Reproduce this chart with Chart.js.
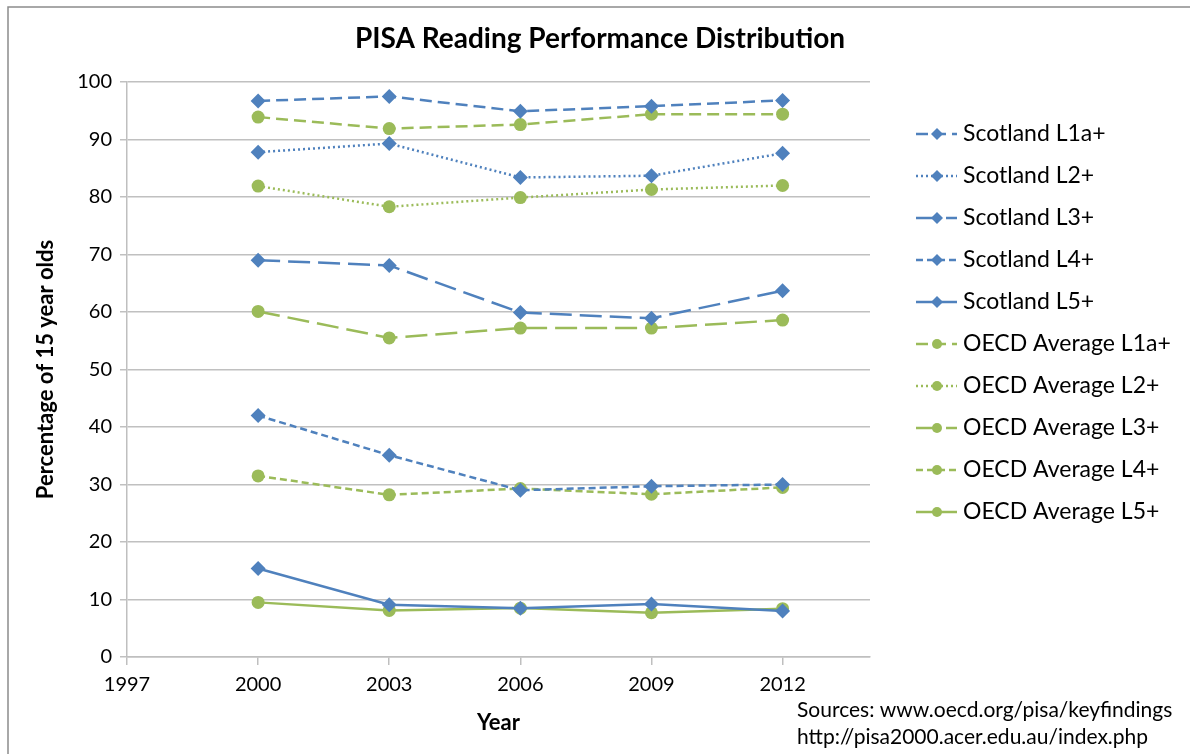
<!DOCTYPE html>
<html>
<head>
<meta charset="utf-8">
<script src="https://cdn.jsdelivr.net/npm/chart.js@4.4.1/dist/chart.umd.min.js"></script>
<style>
    html, body { margin: 0; padding: 0; background: #fff; }
    #wrap { width: 1190px; height: 754px; position: relative; }
</style>
</head>
<body>
<div id="wrap"><canvas id="pisaChart" width="1190" height="754"></canvas></div>
<script>
// Data
const years = [2000, 2003, 2006, 2009, 2012];
const yearTicks = [1997, 2000, 2003, 2006, 2009, 2012];

const scotlandL1a = [96.7, 97.5, 94.9, 95.8, 96.8];
const scotlandL2 = [87.8, 89.3, 83.4, 83.7, 87.6];
const scotlandL3 = [69.0, 68.1, 59.9, 58.9, 63.7];
const scotlandL4 = [42.0, 35.1, 29.0, 29.7, 30.0];
const scotlandL5 = [15.4, 9.1, 8.5, 9.2, 8.0];

const oecdL1a = [93.9, 91.9, 92.6, 94.4, 94.4];
const oecdL2 = [81.9, 78.3, 79.9, 81.3, 82.0];
const oecdL3 = [60.1, 55.5, 57.2, 57.2, 58.6];
const oecdL4 = [31.5, 28.2, 29.3, 28.3, 29.5];
const oecdL5 = [9.5, 8.1, 8.5, 7.7, 8.4];

const blue = '#4F81BD';
const green = '#9BBB59';
const font = 'Lato, "Open Sans", sans-serif';

const dashes = {
    L1a: [12, 6],
    L2: [2, 3],
    L3: [22, 8],
    L4: [7, 4],
    L5: []
};

function series(label, values, color, dash, marker) {
    return {
        label: label,
        data: values.map((v, i) => ({ x: years[i], y: v })),
        borderColor: color,
        backgroundColor: color,
        borderWidth: 2.5,
        borderDash: dash,
        pointStyle: marker,
        pointRadius: marker === 'circle' ? 6.5 : 7.5,
        pointBorderWidth: 0,
        tension: 0
    };
}

// Title, legend, sources and frame
const decorations = {
    id: 'decorations',
    afterDraw(chart) {
        const c = chart.ctx;
        c.save();

        // frame
        c.strokeStyle = '#8c8c8c';
        c.lineWidth = 1.5;
        c.beginPath();
        c.moveTo(8, 754);
        c.lineTo(8, 7);
        c.lineTo(1190, 7);
        c.stroke();

        // title
        c.fillStyle = '#000';
        c.font = 'bold 28px ' + font;
        c.textAlign = 'center';
        c.textBaseline = 'middle';
        c.fillText('PISA Reading Performance Distribution', 600, 39);

        // legend
        c.font = '23px ' + font;
        c.textAlign = 'left';
        chart.data.datasets.forEach((ds, i) => {
            const y = 134 + i * 42;
            c.strokeStyle = ds.borderColor;
            c.lineWidth = 2.5;
            c.setLineDash(ds.borderDash);
            c.beginPath();
            c.moveTo(916, y);
            c.lineTo(957, y);
            c.stroke();
            c.setLineDash([]);
            c.fillStyle = ds.backgroundColor;
            Chart.helpers.drawPoint(c, { pointStyle: ds.pointStyle, radius: ds.pointRadius - 1.5, rotation: 0, borderWidth: 0 }, 937, y);
            c.fillStyle = '#000';
            c.fillText(ds.label, 963, y);
        });

        // sources
        c.font = '21px ' + font;
        c.fillText('Sources: www.oecd.org/pisa/keyfindings', 797, 710);
        c.fillText('http://pisa2000.acer.edu.au/index.php', 797, 737);
        c.restore();
    }
};

const ctx = document.getElementById('pisaChart').getContext('2d');
const pisaChart = new Chart(ctx, {
    type: 'line',
    data: {
        datasets: [
            series('Scotland L1a+', scotlandL1a, blue, dashes.L1a, 'rectRot'),
            series('Scotland L2+', scotlandL2, blue, dashes.L2, 'rectRot'),
            series('Scotland L3+', scotlandL3, blue, dashes.L3, 'rectRot'),
            series('Scotland L4+', scotlandL4, blue, dashes.L4, 'rectRot'),
            series('Scotland L5+', scotlandL5, blue, dashes.L5, 'rectRot'),
            series('OECD Average L1a+', oecdL1a, green, dashes.L1a, 'circle'),
            series('OECD Average L2+', oecdL2, green, dashes.L2, 'circle'),
            series('OECD Average L3+', oecdL3, green, dashes.L3, 'circle'),
            series('OECD Average L4+', oecdL4, green, dashes.L4, 'circle'),
            series('OECD Average L5+', oecdL5, green, dashes.L5, 'circle')
        ]
    },
    options: {
        responsive: false,
        animation: false,
        layout: {
            padding: { left: 33, top: 82, right: 320, bottom: 0 }
        },
        scales: {
            x: {
                type: 'linear',
                min: 1997,
                max: 2014,
                afterBuildTicks: (scale) => {
                    scale.ticks = yearTicks.map(v => ({ value: v }));
                },
                afterFit: (scale) => { scale.height = 97; },
                grid: {
                    drawOnChartArea: false,
                    color: '#bfbfbf',
                    lineWidth: 1.5,
                    tickLength: 8
                },
                border: { color: '#bfbfbf', width: 1.5 },
                ticks: {
                    font: { family: font, size: 20 },
                    color: '#000',
                    padding: 8,
                    maxRotation: 0,
                    callback: (v) => String(v)
                },
                title: {
                    display: true,
                    text: 'Year',
                    font: { family: font, size: 22, weight: 'bold' },
                    color: '#000',
                    padding: { top: 0, bottom: 18 }
                }
            },
            y: {
                min: 0,
                max: 100,
                afterFit: (scale) => { scale.width = 94; },
                ticks: {
                    stepSize: 10,
                    font: { family: font, size: 20 },
                    color: '#000',
                    padding: 8
                },
                grid: {
                    color: '#c0c0c0',
                    lineWidth: 1.5,
                    tickLength: 7
                },
                border: { color: '#bfbfbf', width: 1.5 },
                title: {
                    display: true,
                    text: 'Percentage of 15 year olds',
                    font: { family: font, size: 22, weight: 'bold' },
                    color: '#000',
                    padding: { top: 0, bottom: 0 }
                }
            }
        },
        plugins: {
            legend: { display: false },
            title: { display: false },
            tooltip: { enabled: false }
        }
    },
    plugins: [decorations]
});
</script>
</body>
</html>
